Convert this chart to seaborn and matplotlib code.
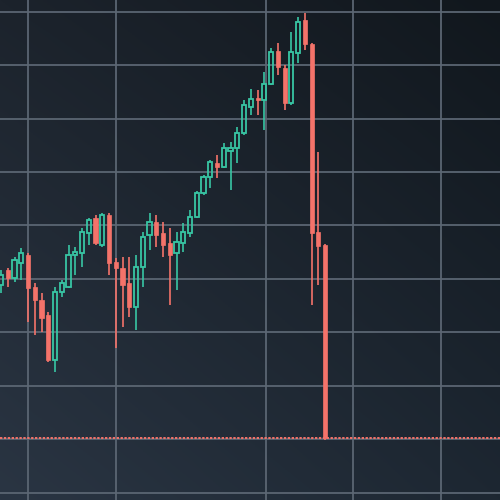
import numpy as np
import pandas as pd
import seaborn as sns
from matplotlib import pyplot as plt
from matplotlib.colors import to_rgb

sns.set_theme(style="dark")

# candle values (price units, grid every 10)
opens = [28.8, 31.6, 30.2, 33.0, 34.5, 28.5, 26.0, 23.2, 14.8, 27.5,
         28.5, 34.5, 34.8, 38.6, 41.4, 36.3, 41.9, 33.1, 32.0, 29.2,
         24.7, 32.2, 38.2, 40.6, 38.6, 36.7, 34.8, 36.7, 38.6, 41.6,
         46.1, 49.1, 51.7, 50.9, 53.9, 54.5, 57.3, 62.2, 63.9, 63.5,
         66.5, 72.7, 69.5, 62.9, 72.3, 78.5, 74.0, 38.8, 36.3]
highs = [31.6, 32.0, 34.1, 35.8, 34.8, 29.2, 27.3, 23.8, 28.5, 29.8,
         36.3, 36.0, 39.5, 41.4, 41.9, 42.3, 42.3, 33.9, 34.1, 34.1,
         34.5, 38.8, 42.3, 41.9, 40.6, 39.5, 38.8, 40.4, 42.9, 46.4,
         49.4, 52.2, 53.2, 55.4, 55.6, 58.4, 63.5, 65.5, 65.4, 68.7,
         73.2, 74.2, 70.0, 76.2, 79.0, 79.8, 74.2, 53.7, 36.5]
lows = [27.3, 28.5, 29.4, 29.8, 21.9, 19.5, 20.0, 14.4, 12.5, 26.6,
        28.3, 30.7, 32.2, 36.3, 36.3, 36.0, 30.7, 17.0, 21.0, 22.8,
        20.4, 28.5, 35.4, 36.0, 34.1, 25.1, 27.9, 35.0, 37.8, 41.4,
        45.7, 47.0, 48.9, 50.8, 46.6, 51.7, 56.9, 60.7, 60.7, 57.9,
        66.3, 68.2, 61.6, 62.5, 70.4, 72.8, 25.1, 28.8, -0.1]
closes = [30.7, 30.2, 33.5, 34.8, 28.3, 26.0, 22.7, 14.8, 27.5, 29.2,
          34.5, 35.0, 38.8, 41.0, 36.7, 41.9, 33.0, 32.0, 28.8, 24.7,
          32.2, 37.8, 40.6, 38.2, 36.3, 34.5, 36.9, 38.8, 41.6, 46.1,
          49.1, 51.9, 50.9, 54.5, 54.5, 57.3, 62.5, 63.7, 63.5, 66.5,
          72.5, 69.7, 62.9, 72.5, 78.1, 74.0, 38.6, 36.1, 0.2]

grid_x = [4.0, 17.0, 39.2, 52.2, 65.2]
grid_y = [-10, 0, 10, 20, 30, 40, 50, 60, 70, 80]

up_col = "#38c6a4"
down_col = "#f4736a"
grid_col = "#5c6774"

df = pd.DataFrame({"open": opens, "high": highs, "low": lows, "close": closes})
df["t"] = np.arange(len(df))
df["up"] = df["close"] >= df["open"]
df["top"] = df[["open", "close"]].max(axis=1)
df["bot"] = df[["open", "close"]].min(axis=1)

fig = plt.figure(figsize=(5, 5), dpi=100)
ax = fig.add_axes([0, 0, 1, 1])

x_lim = (-0.15, 73.9)
y_lim = (-11.4, 82.2)

# dark background, lighter at the bottom left
corners = {"tl": "#1c232c", "tr": "#11171d", "bl": "#2a3543", "br": "#1d2732"}
u = np.linspace(0, 1, 200)[None, :, None]
v = np.linspace(0, 1, 200)[:, None, None]
c = {k: np.array(to_rgb(val))[None, None, :] for k, val in corners.items()}
bg = (c["tl"] * (1 - u) * (1 - v) + c["tr"] * u * (1 - v)
      + c["bl"] * (1 - u) * v + c["br"] * u * v)
ax.imshow(bg, extent=[x_lim[0], x_lim[1], y_lim[0], y_lim[1]],
          origin="upper", aspect="auto", zorder=0)

ax.set_xticks(grid_x)
ax.set_yticks(grid_y)
ax.grid(True, color=grid_col, lw=1.4, alpha=0.9)
ax.set_axisbelow(True)
ax.tick_params(labelbottom=False, labelleft=False, length=0)

w = 0.62
up = df[df["up"]]
dn = df[~df["up"]]

# bearish: filled body, wick straight through
ax.vlines(dn["t"], dn["low"], dn["high"], color=down_col, lw=1.2, zorder=3)
ax.bar(dn["t"], dn["top"] - dn["bot"], bottom=dn["bot"], width=w,
       color=down_col, edgecolor=down_col, lw=0.5, zorder=4)

# bullish: hollow body, wick stops at the body
ax.vlines(up["t"], up["top"], up["high"], color=up_col, lw=1.2, zorder=3)
ax.vlines(up["t"], up["low"], up["bot"], color=up_col, lw=1.2, zorder=3)
ax.bar(up["t"], (up["top"] - up["bot"]).clip(lower=0.3), bottom=up["bot"],
       width=w, facecolor="none", edgecolor=up_col, lw=1.3, zorder=4)

# last price line
ax.axhline(closes[-1], color=down_col, lw=1.4, ls=(0, (1.2, 0.8)), zorder=5)

ax.set_xlim(*x_lim)
ax.set_ylim(*y_lim)
for s in ax.spines.values():
    s.set_visible(False)

fig.savefig("out.png", dpi=100)
